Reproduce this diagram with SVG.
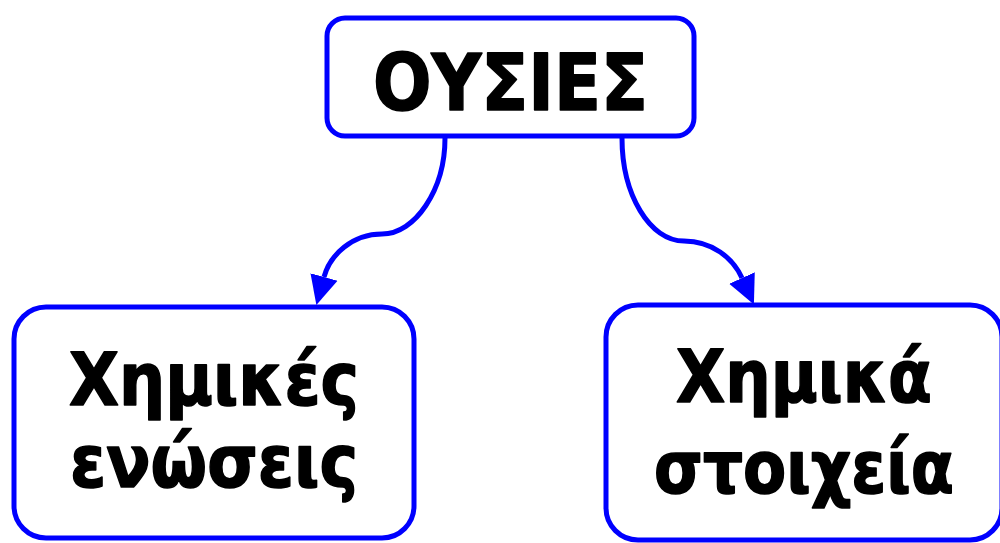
<svg xmlns="http://www.w3.org/2000/svg" width="1000" height="543" viewBox="0 0 1000 543">
<style>
.box{fill:#fff;stroke:#0000ff;stroke-width:5}
.lbl{font-family:"DejaVu Sans",Verdana,sans-serif;font-weight:bold;fill:#000;stroke:#000;stroke-width:1.6;stroke-linejoin:round;text-anchor:middle}
.conn{fill:none;stroke:#0000ff;stroke-width:5}
</style>
<defs>
<marker id="arr" markerUnits="userSpaceOnUse" viewBox="0 -15 30 30" refX="0" refY="0" markerWidth="30" markerHeight="30" orient="auto">
<path d="M0,-14 L29,0 L0,14 z" fill="#0000ff"/>
</marker>
</defs>
<g id="connectors">
<path class="conn" d="M445,138 C445,190 415,234 382,234 C352,234 330,255 324,277" marker-end="url(#arr)"/>
<path class="conn" d="M622,138 C622,195 650,241 684,241 C712,241 733,258 742,278" marker-end="url(#arr)"/>
</g>
<g id="node-ousies">
<rect class="box" x="327" y="18" width="367" height="118" rx="18"/>
<text class="lbl" x="510.5" y="110" font-size="78" textLength="275" lengthAdjust="spacingAndGlyphs">ΟΥΣΙΕΣ</text>
</g>
<g id="node-enoseis">
<rect class="box" x="14" y="307" width="400" height="231" rx="32"/>
<text class="lbl" x="214" y="405" font-size="73" textLength="290" lengthAdjust="spacingAndGlyphs">Χημικές</text>
<text class="lbl" x="214" y="487" font-size="73" textLength="288" lengthAdjust="spacingAndGlyphs">ενώσεις</text>
</g>
<g id="node-stoixeia">
<rect class="box" x="606" y="305" width="396" height="235" rx="32"/>
<text class="lbl" x="804" y="402" font-size="73" textLength="256" lengthAdjust="spacingAndGlyphs">Χημικά</text>
<text class="lbl" x="804" y="493" font-size="73" textLength="300" lengthAdjust="spacingAndGlyphs">στοιχεία</text>
</g>
</svg>
